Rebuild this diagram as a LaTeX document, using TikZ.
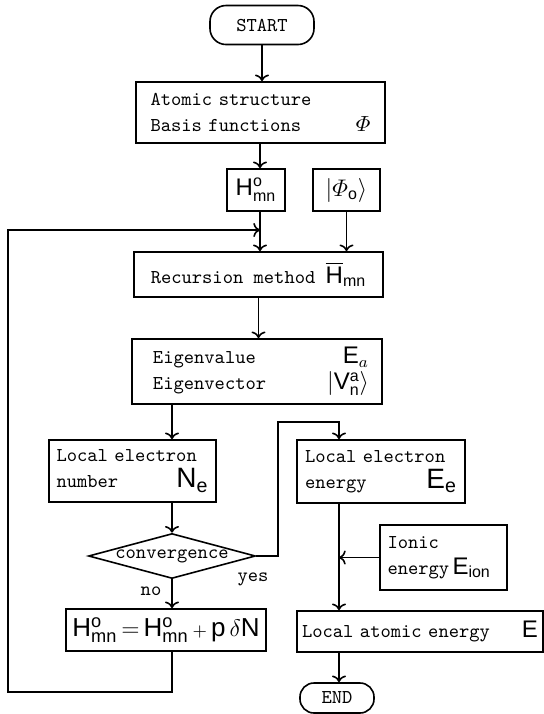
\documentclass[tikz,border=0pt]{standalone}
\usepackage{amsmath}
\usepackage{fontspec}
\setsansfont{Liberation Sans}
\usetikzlibrary{shapes.geometric, arrows.meta, calc}
\newcommand{\symsize}[2]{{\fontsize{#1}{#1}\selectfont$#2$}}
\tikzset{
	boxnode/.style={
			shape=rectangle,
			draw=black,
			thick,
			inner sep=0pt,
			align=left,
			font=\ttfamily\fontsize{9.8}{13}\selectfont
		},
	termnode/.style={
			boxnode,
			rounded corners=8pt,
			align=center
		},
	decisionnode/.style={
			shape=diamond,
			draw=black,
			thick,
			inner sep=0pt,
			aspect=3.7,
			font=\ttfamily\fontsize{9.8}{10}\selectfont
		},
	labelnode/.style={
			inner sep=1pt,
			font=\ttfamily\fontsize{9.8}{10}\selectfont
		},
	flow/.style={
			thick,
			->
		}
}

\begin{document}
\begin{tikzpicture}[x=0.5pt, y=-0.5pt]
  \useasboundingbox (0,0) rectangle (543,714);

  \coordinate (j) at (260,230);
  \coordinate (rx) at (339,500);
  \coordinate (turn) at (278,422);
  \coordinate (fb) at (8,692);

  \node[termnode, minimum width=52pt, minimum height=19.5pt] (start) at (262,25) {START};
  \node[boxnode, minimum width=124.5pt, minimum height=30.5pt, text width=110pt] (atom) at (260.5,112.5)
    {Atomic structure\\Basis functions\hfill\symsize{11}{\varPhi}\hspace*{7pt}};

  \node[boxnode, minimum width=29pt, minimum height=21pt, align=center] (hmn) at (256,190)
    {\symsize{12}{\mathsf{H}^{\mathsf{o}}_{\mathsf{mn}}}};
  \node[boxnode, minimum width=33.5pt, minimum height=21pt, align=center] (phi) at (346.5,190)
    {\symsize{12}{|\varPhi_{\mathsf{o}}\rangle}};

  \node[boxnode, minimum width=124.5pt, minimum height=22.5pt, align=center] (rec) at (258.5,274.5)
    {Recursion method \symsize{12}{\overline{\mathsf{H}}_{\mathsf{mn}}}};

  \node[boxnode, minimum width=125pt, minimum height=32.5pt, text width=112pt] (eig) at (257,371.5)
    {\hspace*{4pt}Eigenvalue\hfill\symsize{12}{\mathsf{E}_{a}}\hspace*{6pt}\\
     \hspace*{4pt}Eigenvector\hfill\symsize{12}{|\mathsf{V}^{\mathsf{a}}_{\mathsf{n}}\rangle}};

  \node[boxnode, minimum width=83.5pt, minimum height=31pt, text width=76pt] (num) at (132.5,471)
    {Local electron\\number\hfill\symsize{14}{\mathsf{N}_{\mathsf{e}}}\hspace*{12pt}};
  \node[boxnode, minimum width=84pt, minimum height=31.5pt, text width=76pt] (ene) at (381,471.5)
    {Local electron\\energy\hfill\symsize{14}{\mathsf{E}_{\mathsf{e}}}\hspace*{12.5pt}};

  \node[decisionnode, minimum width=83.5pt, minimum height=22.5pt] (conv) at (172,556) {convergence};

  \node[boxnode, minimum width=63.5pt, minimum height=32.5pt, text width=56pt] (ion) at (443.5,557.5)
    {Ionic\\energy\,\symsize{12}{\mathsf{E}_{\mathsf{ion}}}};

  \node[boxnode, minimum width=100pt, minimum height=21pt, align=center] (upd) at (166,630)
    {\symsize{13}{\mathsf{H}^{\mathsf{o}}_{\mathsf{mn}}\,{=}\,\mathsf{H}^{\mathsf{o}}_{\mathsf{mn}}\,{\scriptstyle +}\,\mathsf{p}\,\delta\mathsf{N}}};

  \node[boxnode, minimum width=123pt, minimum height=20.5pt, text width=118pt] (atm) at (420,631.5)
    {Local atomic energy\hfill\symsize{12}{\mathsf{E}}\hspace*{4pt}};

  \node[termnode, minimum width=37pt, minimum height=15pt, rounded corners=7pt] (end) at (337,698) {END};

  \node[labelnode] (no) at (151,591) {no};
  \node[labelnode] (yes) at (253,579) {yes};

  % main column
  \draw[flow] (start) -- (atom.north -| start);
  \draw[flow] (atom.south -| j) -- (hmn.north -| j);
  \draw[flow] (hmn.south -| j) -- (rec.north -| j);
  \draw[flow] (phi.south) -- (rec.north -| phi.south);
  \draw[flow] (rec.south) -- (rec.south |- eig.north);

  % left branch
  \draw[flow] (eig.south -| conv) -- (num.north -| conv);
  \draw[flow] (num.south -| conv) -- (conv.north);
  \draw[flow] (conv.south) -- (upd.north -| conv);
  \draw[flow] (upd.south -| conv) |- (fb) |- (j);

  % right branch
  \draw[flow] (conv.east) -| (turn) -| (ene.north -| rx);
  \draw[flow] (ene.south -| rx) -- (atm.north -| rx);
  \draw[flow] (ion.west) -- (ion.west -| rx);
  \draw[flow] (atm.south -| rx) -- (end.north -| rx);

\end{tikzpicture}
\end{document}
